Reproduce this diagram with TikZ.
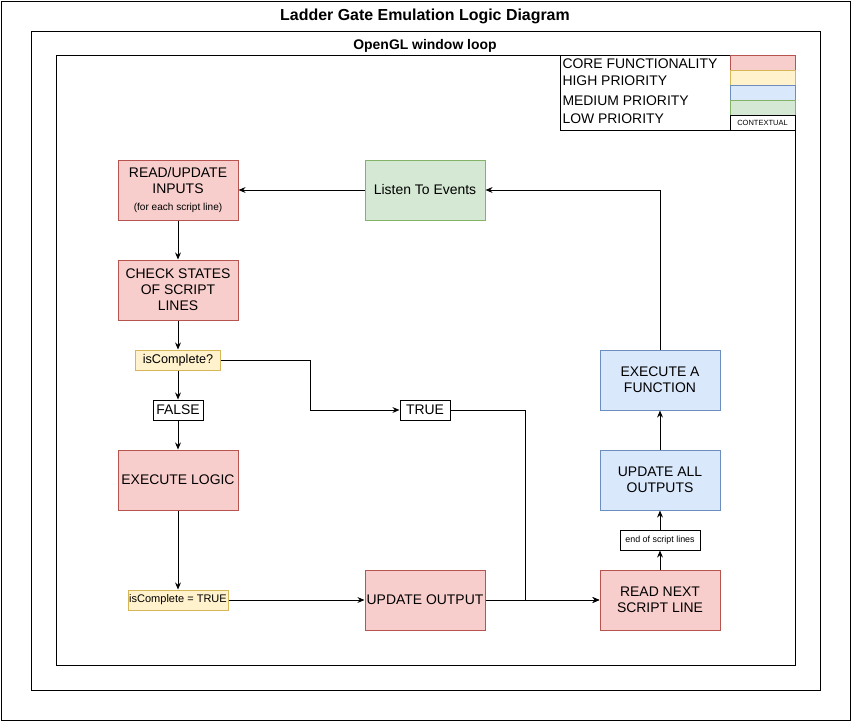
\documentclass[tikz,border=0pt]{standalone}
\usepackage{fontspec}
\setmainfont{Liberation Sans}
\usepackage{xcolor}
\usetikzlibrary{arrows.meta}

\definecolor{corefill}{HTML}{F8CECC}
\definecolor{coreline}{HTML}{B85450}
\definecolor{highfill}{HTML}{FFF2CC}
\definecolor{highline}{HTML}{D6B656}
\definecolor{medfill}{HTML}{DAE8FC}
\definecolor{medline}{HTML}{6C8EBF}
\definecolor{lowfill}{HTML}{D5E8D4}
\definecolor{lowline}{HTML}{82B366}

\tikzset{
  every picture/.style={line width=0.85pt},
  core/.style={draw=coreline, fill=corefill},
  high/.style={draw=highline, fill=highfill},
  medium/.style={draw=medline, fill=medfill},
  low/.style={draw=lowline, fill=lowfill},
  bigbox/.style={minimum width=3.6cm, minimum height=1.8cm, inner sep=0pt,
    align=center, font=\fontsize{11.9}{13.6}\selectfont},
  tag/.style={draw, fill=white, inner sep=0pt, minimum height=0.6cm},
  flow/.style={-{Stealth[length=6pt,width=5pt]}},
}

\begin{document}
\begin{tikzpicture}[x=0.03cm, y=-0.03cm]
  \useasboundingbox (0,0) rectangle (851,721);
  % frames
  \draw (1,1) rectangle (850,720);
  \node[font=\bfseries\fontsize{13.6}{15}\selectfont] (title) at (425,16) {Ladder Gate Emulation Logic Diagram};
  \draw (31,31) rectangle (820,690);
  \node[font=\bfseries\fontsize{11.9}{13}\selectfont] (loop) at (425,46) {OpenGL window loop};
  \draw (56,55) rectangle (795,665);

  % legend
  \draw (560,55) rectangle (795,130);
  \node[anchor=west, inner sep=0pt, font=\fontsize{11.9}{13}\selectfont] (lgcore) at (562,64) {CORE FUNCTIONALITY};
  \node[anchor=west, inner sep=0pt, font=\fontsize{11.9}{13}\selectfont] (lghigh) at (562,81) {HIGH PRIORITY};
  \node[anchor=west, inner sep=0pt, font=\fontsize{11.9}{13}\selectfont] (lgmed) at (562,101) {MEDIUM PRIORITY};
  \node[anchor=west, inner sep=0pt, font=\fontsize{11.9}{13}\selectfont] (lglow) at (562,119) {LOW PRIORITY};
  \draw[core] (730,55) rectangle (795,70);
  \draw[high] (730,70) rectangle (795,85);
  \draw[medium] (730,85) rectangle (795,100);
  \draw[low] (730,100) rectangle (795,115);
  \draw (730,115) rectangle (795,130);
  \node[font=\fontsize{6.4}{7}\selectfont] (lgctx) at (762.5,122.5) {CONTEXTUAL};

  % left column
  \node[bigbox, core] (readin) at (178,190) {READ/UPDATE\\INPUTS\\[1pt]{\fontsize{8.6}{9}\selectfont (for each script line)}};
  \node[bigbox, low] (listen) at (425,190) {Listen To Events};
  \node[bigbox, core] (check) at (178,290) {CHECK STATES\\OF SCRIPT\\LINES};
  \node[tag, high, minimum width=2.55cm, font=\fontsize{10.8}{12}\selectfont] (iscomp) at (178,360) {isComplete?};
  \node[tag, minimum width=1.5cm, font=\fontsize{11.9}{13}\selectfont] (false) at (178,410) {FALSE};
  \node[bigbox, core] (logic) at (178,480) {EXECUTE LOGIC};
  \node[tag, high, minimum width=3cm, font=\fontsize{9.4}{10}\selectfont] (settrue) at (178,600) {isComplete = TRUE};

  % middle and right
  \node[tag, minimum width=1.5cm, font=\fontsize{11.9}{13}\selectfont] (true) at (425,410) {TRUE};
  \node[bigbox, core] (update) at (425,600) {UPDATE OUTPUT};
  \node[bigbox, core] (readnext) at (660,600) {READ NEXT\\SCRIPT LINE};
  \node[tag, minimum width=2.4cm, font=\fontsize{7.6}{8}\selectfont] (endlines) at (660,540) {end of script lines};
  \node[bigbox, medium] (allout) at (660,480) {UPDATE ALL\\OUTPUTS};
  \node[bigbox, medium] (execfn) at (660,380) {EXECUTE A\\FUNCTION};

  \coordinate (bendA) at (310,0);
  \coordinate (bendB) at (525,0);

  % connectors
  \draw[flow] (listen.west) -- (readin.east);
  \draw[flow] (readin.south) -- (check.north);
  \draw[flow] (check.south) -- (iscomp.north);
  \draw[flow] (iscomp.south) -- (false.north);
  \draw[flow] (false.south) -- (logic.north);
  \draw[flow] (logic.south) -- (settrue.north);
  \draw[flow] (settrue.east) -- (update.west);
  \draw[flow] (update.east) -- (readnext.west);
  \draw[flow] (iscomp.east) -- (iscomp.east -| bendA) |- (true.west);
  \draw[flow] (true.east) -| (bendB |- readnext.west) -- (readnext.west);
  \draw[flow] (readnext.north) -- (endlines.south);
  \draw[flow] (endlines.north) -- (allout.south);
  \draw[flow] (allout.north) -- (execfn.south);
  \draw[flow] (execfn.north) |- (listen.east);
\end{tikzpicture}
\end{document}
